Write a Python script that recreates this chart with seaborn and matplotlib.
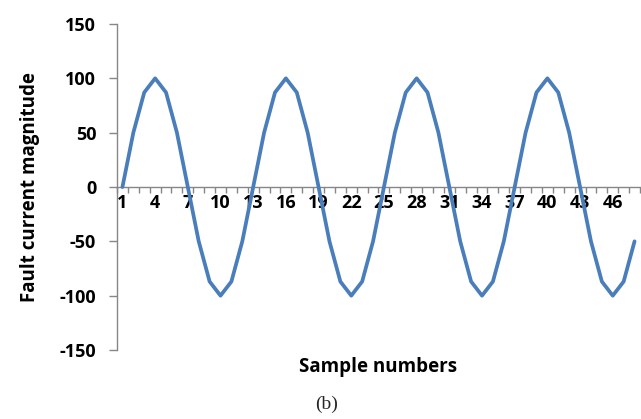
import matplotlib
matplotlib.use("Agg")
import matplotlib.pyplot as plt
from matplotlib.ticker import FixedLocator
import seaborn as sns
import pandas as pd

sample_numbers = list(range(1, 49))
one_cycle = [0, 50, 87, 100, 87, 50, 0, -50, -87, -100, -87, -50]
fault_current = one_cycle * 4
x_tick_labels = [1, 4, 7, 10, 13, 16, 19, 22, 25, 28, 31, 34, 37, 40, 43, 46]
y_ticks = [-150, -100, -50, 0, 50, 100, 150]

df = pd.DataFrame({"sample": sample_numbers, "current": fault_current})

sns.set_theme(style="white")
plt.rcParams["font.family"] = ["Open Sans", "DejaVu Sans"]

fig = plt.figure(figsize=(6.41, 4.19), dpi=100)
fig.patch.set_facecolor("white")
ax = fig.add_axes([117 / 641, 1 - 350 / 419, 523 / 641, 326 / 419])
ax.set_facecolor("white")

sns.lineplot(data=df, x="sample", y="current", ax=ax, color="#4A7EBB",
             linewidth=2.7, legend=False, zorder=3)

ax.set_xlim(0.5, 48.5)
ax.set_ylim(-150, 150)

axis_color = "#868686"
for s in ["top", "right"]:
    ax.spines[s].set_visible(False)
ax.spines["bottom"].set_position(("data", 0))
ax.spines["bottom"].set_color(axis_color)
ax.spines["left"].set_color(axis_color)
ax.spines["bottom"].set_linewidth(1.0)
ax.spines["left"].set_linewidth(1.0)

ax.set_yticks(y_ticks)
ax.set_yticklabels([str(v) for v in y_ticks], fontweight="bold", fontsize=13)
ax.tick_params(axis="y", which="major", length=6, width=1, color=axis_color,
               pad=9, left=True, labelcolor="black")

ax.set_xticks(x_tick_labels)
ax.set_xticklabels([str(v) for v in x_tick_labels], fontweight="bold", fontsize=13)
ax.xaxis.set_minor_locator(FixedLocator([k + 0.5 for k in range(0, 49)]))
ax.tick_params(axis="x", which="major", length=0, pad=5, labelcolor="black")
ax.tick_params(axis="x", which="minor", length=4.5, width=1, color=axis_color,
               bottom=True, direction="out")

ax.set_xlabel("Sample numbers", fontweight="bold", fontsize=13.5, color="black")
ax.xaxis.set_label_coords(0.5, -0.022)
ax.set_ylabel("Fault current magnitude", fontweight="bold", fontsize=13.5, color="black")
ax.yaxis.set_label_coords(-0.148, 0.5)

fig.text(327 / 641, 1 - 404 / 419, "(b)", family=["Liberation Serif", "DejaVu Serif"],
         fontsize=14, ha="center", va="center")

fig.savefig("out.png", dpi=100)
